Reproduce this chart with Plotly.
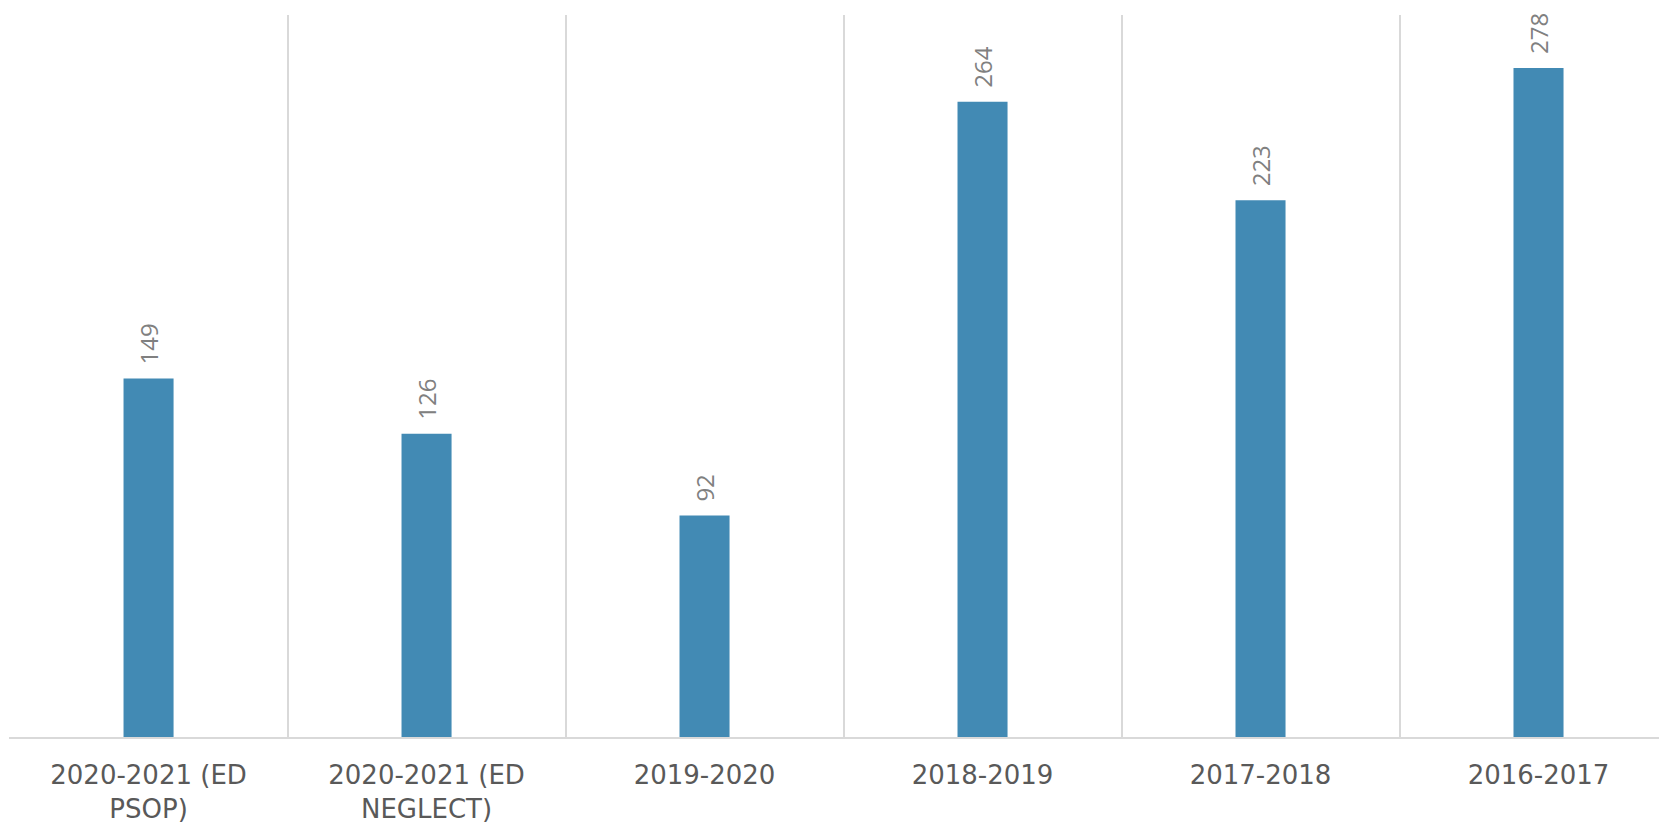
import plotly.graph_objects as go

categories = ["2020-2021 (ED<br>PSOP)", "2020-2021 (ED<br>NEGLECT)", "2019-2020",
              "2018-2019", "2017-2018", "2016-2017"]
values = [149, 126, 92, 264, 223, 278]

fig = go.Figure(go.Bar(
    x=categories, y=values,
    marker=dict(color="#428ab4", line=dict(width=0)),
    hoverinfo="x+y",
))

for c, v in zip(categories, values):
    fig.add_annotation(
        x=c, y=v, text=str(v), showarrow=False,
        textangle=-90, yanchor="bottom", xanchor="center",
        yshift=12,
        font=dict(family="Open Sans", size=24, color="#808080"),
    )

fig.update_layout(
    width=1667, height=823,
    margin=dict(l=1, r=0, t=7, b=94),
    paper_bgcolor="white", plot_bgcolor="white",
    bargap=0.82,
    showlegend=False,
    font=dict(family="Open Sans"),
)
fig.update_xaxes(
    range=[-0.502, 5.491], automargin=False,
    tickson="boundaries", showgrid=True, gridcolor="#d9d9d9", gridwidth=1.5,
    showline=True, linecolor="#d9d9d9", linewidth=2,
    ticks="", ticklabelstandoff=14,
    tickfont=dict(family="DejaVu Sans", size=26, color="#595959"),
)
fig.update_yaxes(range=[0, 300], showgrid=False, zeroline=False,
                 showticklabels=False, automargin=False)

fig.write_html("out.html")
